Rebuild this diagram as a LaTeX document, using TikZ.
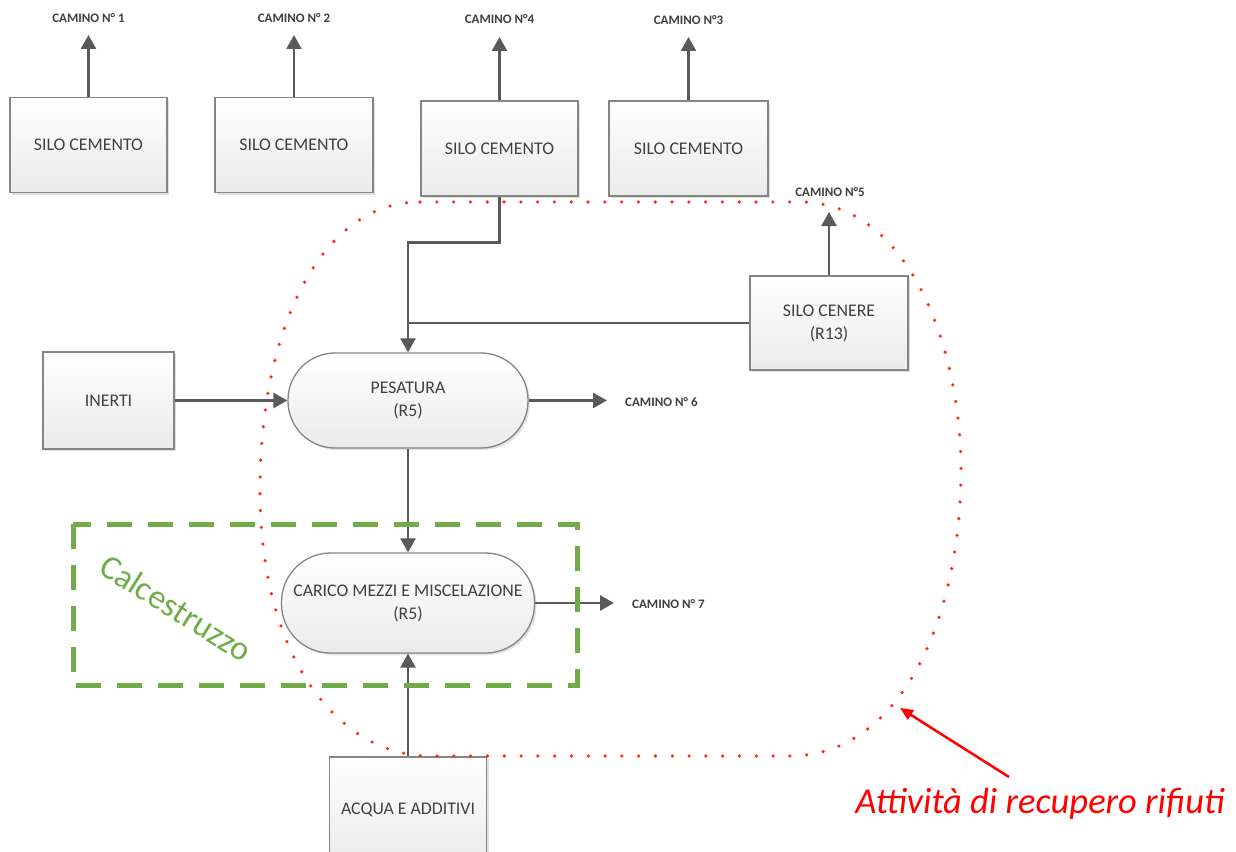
\documentclass[tikz,border=0pt]{standalone}
\usepackage{fontspec}
\setmainfont{Carlito}
\usetikzlibrary{arrows.meta,shadows}
\definecolor{boxgray}{HTML}{858585}
\definecolor{arrgray}{HTML}{5A5A5A}
\definecolor{txtgray}{HTML}{404040}
\definecolor{calgreen}{HTML}{70AD47}
\definecolor{dotred}{HTML}{FF2A1A}
\begin{document}
\begin{tikzpicture}[x=1pt,y=-1pt,
 box/.style={draw=boxgray, line width=1.3pt, top color=white, bottom color=black!8, text=txtgray, align=center, inner sep=0pt, font=\fontsize{17.8}{23}\selectfont, drop shadow={shadow xshift=2pt, shadow yshift=-2pt, fill=black, opacity=0.12}},
 pill/.style={box},
 flow/.style={draw=arrgray, line width=2.6pt, -{Triangle[width=15pt,length=14pt]}},
 link/.style={draw=arrgray, line width=2.6pt},
 lbl/.style={text=txtgray, font=\bfseries\fontsize{13}{15}\selectfont, inner sep=0pt},
]
\clip (0,0) rectangle (1236,851);
\fill[white] (0,0) rectangle (1236,851);

% boxes
\node[box, minimum width=157pt, minimum height=95pt] (s1) at (88.5,145) {SILO CEMENTO};
\node[box, minimum width=158pt, minimum height=95pt] (s2) at (294,145) {SILO CEMENTO};
\node[box, minimum width=157pt, minimum height=95pt] (s4) at (499.5,148.5) {SILO CEMENTO};
\node[box, minimum width=159pt, minimum height=95pt] (s3) at (688.5,148.5) {SILO CEMENTO};
\node[box, minimum width=158pt, minimum height=94pt] (cen) at (829,323) {SILO CENERE\\(R13)};
\node[box, minimum width=131pt, minimum height=97pt] (ine) at (108.5,400.5) {INERTI};
\node[pill, rounded corners=47pt, minimum width=240pt, minimum height=95pt] (pes) at (408,400.5) {PESATURA\\(R5)};
\node[pill, rounded corners=49pt, minimum width=253pt, minimum height=100pt] (car) at (408,603) {CARICO MEZZI E MISCELAZIONE\\(R5)};
\node[box, minimum width=157pt, minimum height=106pt] (acq) at (408,810) {ACQUA E ADDITIVI};

% chimney labels
\node[lbl] (c1) at (88.5,18) {CAMINO N° 1};
\node[lbl] (c2) at (294,18) {CAMINO N° 2};
\node[lbl] (c4) at (499.5,19) {CAMINO N°4};
\node[lbl] (c3) at (688.5,20) {CAMINO N°3};
\node[lbl] (c5) at (830,192) {CAMINO N°5};
\node[lbl, anchor=west] (c6) at (625,402) {CAMINO N° 6};
\node[lbl, anchor=west] (c7) at (632,604) {CAMINO N° 7};

\coordinate (k1) at (88.5,35);
\coordinate (k2) at (294,35);
\coordinate (k4) at (499.5,37);
\coordinate (k3) at (688.5,37);
\coordinate (k5) at (829,212);
\coordinate (k6) at (607,400.5);
\coordinate (k7) at (614,603);

% connectors
\draw[flow] (s1.north) -- (k1);
\draw[flow] (s2.north) -- (k2);
\draw[flow] (s4.north) -- (k4);
\draw[flow] (s3.north) -- (k3);
\draw[flow] (cen.north) -- (k5);
\draw[flow] (s4.south) -- ++(0,46) -| (pes.north);
\draw[link] (cen.west) -- (cen.west -| pes.north);
\draw[flow] (ine.east) -- (pes.west);
\draw[flow] (pes.east) -- (k6);
\draw[flow] (pes.south) -- (car.north);
\draw[flow] (acq.north) -- (car.south);
\draw[flow] (car.east) -- (k7);

% green group
\draw[calgreen, line width=5pt, dash pattern=on 25pt off 16pt] (73,524) rectangle (577,685);
\node[text=calgreen, rotate=-32, font=\fontsize{34}{34}\selectfont] (calc) at (176,608) {Calcestruzzo};

% red dotted region
\draw[dotred, line width=3.6pt, line cap=round, dash pattern=on 0pt off 16.8pt]
 (420,202) -- (800,202) .. controls (910,202) and (961,350) .. (961,470)
 .. controls (961,620) and (900,756) .. (790,756) -- (430,756)
 .. controls (340,756) and (260,660) .. (260,490)
 .. controls (260,330) and (320,202) .. (420,202);

\node[text=red, font=\itshape\fontsize{36.5}{36.5}\selectfont] (att) at (1040,804) {Attività di recupero rifiuti};
\coordinate (ra) at (1009,777);
\coordinate (rb) at (900,708);
\draw[red, line width=2.5pt, -{Triangle[width=11pt,length=13pt]}] (ra) -- (rb);
\end{tikzpicture}
\end{document}
